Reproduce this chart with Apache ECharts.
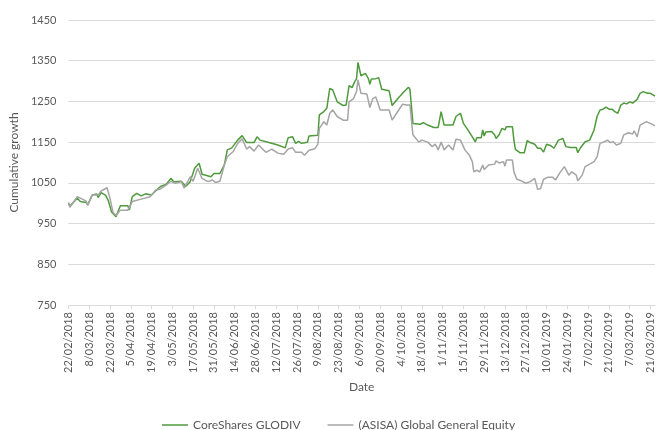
<!DOCTYPE html>
<html>
<head>
<meta charset="utf-8">
<script src="https://cdn.jsdelivr.net/npm/echarts@6/dist/echarts.min.js"></script>
<style>
  html, body { margin: 0; padding: 0; background: #fff; }
  #chart { width: 656px; height: 430px; }
</style>
</head>
<body>
<div id="chart"></div>
<script>
// day offsets are counted from 22/02/2018
const tickLabels = ['22/02/2018', '8/03/2018', '22/03/2018', '5/04/2018', '19/04/2018', '3/05/2018',
  '17/05/2018', '31/05/2018', '14/06/2018', '28/06/2018', '12/07/2018', '26/07/2018', '9/08/2018',
  '23/08/2018', '6/09/2018', '20/09/2018', '4/10/2018', '18/10/2018', '1/11/2018', '15/11/2018',
  '29/11/2018', '13/12/2018', '27/12/2018', '10/01/2019', '24/01/2019', '7/02/2019', '21/02/2019',
  '7/03/2019', '21/03/2019']
const tickDays = [0, 14, 28, 42, 56, 70, 84, 98, 112, 126, 140, 154, 168, 182, 196, 210, 224, 238,
  252, 266, 280, 294, 308, 322, 336, 350, 364, 378, 392]

const glodivDays = [0, 1, 6, 8, 12, 13, 16, 19, 20, 22, 25, 27, 29, 32, 35, 40, 41, 43, 46, 49, 52, 56,
  59, 62, 66, 69, 71, 76, 79, 82, 85, 88, 90, 96, 98, 102, 105, 107, 110, 114, 117, 120, 125, 127, 129,
  135, 141, 146, 148, 151, 153, 155, 157, 161, 162, 168, 169, 172, 174, 176, 178, 181, 185, 187, 188,
  189, 191, 193, 194, 195, 197, 200, 202, 203, 204, 207, 209, 211, 216, 218, 222, 226, 229, 230, 232,
  237, 239, 242, 246, 249, 251, 253, 259, 261, 264, 266, 269, 272, 274, 275, 278, 279, 280, 281, 285,
  287, 288, 290, 292, 294, 295, 299, 300, 301, 304, 307, 309, 311, 314, 316, 318, 320, 322, 325, 327,
  328, 330, 333, 335, 338, 342, 343, 345, 348, 351, 354, 356, 358, 360, 362, 364, 366, 368, 370, 372,
  374, 376, 378, 380, 383, 385, 387, 388, 390, 392, 395]
const glodivValues = [1000, 993, 1012, 1004, 1002, 996, 1020, 1023, 1014, 1026, 1020, 1005, 979, 967,
  994, 994, 983, 1016, 1024, 1018, 1023, 1020, 1031, 1041, 1047, 1061, 1053, 1054, 1041, 1053, 1086,
  1098, 1071, 1065, 1073, 1073, 1094, 1131, 1136, 1155, 1166, 1149, 1149, 1163, 1155, 1149, 1143, 1136,
  1161, 1163, 1147, 1152, 1147, 1150, 1165, 1167, 1217, 1225, 1233, 1282, 1278, 1249, 1240, 1241, 1238,
  1289, 1284, 1300, 1305, 1346, 1313, 1319, 1306, 1292, 1305, 1306, 1308, 1280, 1276, 1240, 1258, 1274,
  1285, 1280, 1196, 1194, 1198, 1192, 1186, 1186, 1225, 1192, 1192, 1213, 1221, 1196, 1180, 1163, 1151,
  1161, 1161, 1180, 1165, 1175, 1176, 1168, 1159, 1168, 1184, 1180, 1188, 1188, 1155, 1132, 1124, 1124,
  1154, 1149, 1145, 1135, 1135, 1126, 1145, 1141, 1135, 1131, 1155, 1159, 1139, 1137, 1137, 1124, 1137,
  1151, 1155, 1180, 1213, 1229, 1231, 1236, 1231, 1231, 1225, 1221, 1241, 1246, 1244, 1249, 1246, 1255,
  1270, 1274, 1278, 1270, 1270, 1263]

const asisaDays = [0, 1, 6, 12, 13, 16, 20, 22, 26, 28, 30, 32, 35, 40, 41, 43, 49, 55, 59, 62, 66, 69,
  72, 76, 78, 82, 84, 87, 90, 94, 97, 99, 102, 105, 107, 111, 114, 117, 120, 122, 125, 128, 129, 133,
  137, 141, 145, 148, 151, 153, 157, 159, 162, 166, 168, 169, 172, 174, 176, 178, 181, 185, 188, 189,
  192, 194, 195, 197, 201, 203, 205, 207, 210, 216, 218, 221, 225, 228, 230, 232, 236, 238, 242, 245,
  247, 249, 251, 253, 256, 259, 261, 264, 267, 270, 272, 273, 275, 277, 279, 280, 283, 287, 288, 290,
  293, 294, 295, 299, 300, 302, 305, 308, 311, 314, 316, 318, 320, 323, 326, 328, 331, 334, 337, 339,
  342, 343, 346, 348, 351, 354, 356, 358, 361, 363, 365, 367, 369, 372, 374, 377, 380, 381, 383, 385,
  389, 392, 395]
const asisaValues = [1002, 990, 1016, 1005, 995, 1020, 1020, 1030, 1038, 1012, 978, 970, 983, 983, 980,
  1004, 1010, 1016, 1033, 1035, 1045, 1054, 1049, 1053, 1037, 1065, 1054, 1086, 1061, 1053, 1057, 1051,
  1054, 1094, 1114, 1127, 1147, 1158, 1133, 1139, 1128, 1143, 1139, 1125, 1133, 1123, 1120, 1133, 1136,
  1125, 1125, 1118, 1130, 1134, 1145, 1184, 1200, 1192, 1221, 1229, 1213, 1204, 1204, 1249, 1257, 1274,
  1303, 1270, 1268, 1235, 1257, 1261, 1229, 1229, 1204, 1221, 1243, 1241, 1241, 1168, 1150, 1155, 1150,
  1139, 1145, 1131, 1150, 1131, 1143, 1131, 1157, 1155, 1131, 1118, 1102, 1077, 1081, 1077, 1094, 1083,
  1094, 1096, 1104, 1099, 1102, 1091, 1106, 1106, 1077, 1059, 1055, 1049, 1053, 1061, 1034, 1036, 1059,
  1064, 1064, 1057, 1075, 1090, 1069, 1077, 1069, 1055, 1069, 1090, 1096, 1102, 1114, 1147, 1151, 1155,
  1149, 1151, 1143, 1147, 1168, 1173, 1170, 1178, 1163, 1192, 1200, 1196, 1190]

const pairUp = (days, values) => days.map((d, i) => [d, values[i]])

const textColor = '#595959'
const gridColor = '#d9d9d9'
const font = 'Lato'

let chart = echarts.init(document.getElementById('chart'))
let option = {
  animation: false,
  textStyle: { fontFamily: font },
  grid: {
    left: 67,
    right: 0,
    top: 20,
    bottom: 125,
  },
  legend: {
    left: 157,
    top: 414,
    icon: 'rect',
    itemWidth: 26,
    itemHeight: 1.5,
    itemGap: 27,
    textStyle: { color: textColor, fontSize: 12, fontFamily: font },
  },
  xAxis: {
    type: 'value',
    min: 0,
    max: 395,
    name: 'Date',
    nameLocation: 'middle',
    nameGap: 75,
    nameTextStyle: { color: textColor, fontSize: 12, fontFamily: font },
    axisLine: { show: true, lineStyle: { color: gridColor, width: 1 } },
    axisTick: {
      show: true,
      length: 4,
      customValues: tickDays,
      lineStyle: { color: gridColor },
    },
    axisLabel: {
      customValues: tickDays,
      rotate: 90,
      margin: 7,
      color: textColor,
      fontSize: 11,
      fontFamily: font,
      formatter: v => tickLabels[tickDays.indexOf(Math.round(v))] || '',
    },
    splitLine: { show: false },
  },
  yAxis: {
    type: 'value',
    min: 750,
    max: 1450,
    interval: 100,
    name: 'Cumulative growth',
    nameLocation: 'middle',
    nameGap: 47,
    nameTextStyle: { color: textColor, fontSize: 12, fontFamily: font },
    axisLine: { show: false },
    axisTick: { show: false },
    axisLabel: {
      color: textColor,
      fontSize: 11,
      margin: 12,
      fontFamily: font,
      formatter: v => String(v),
    },
    splitLine: { lineStyle: { color: gridColor, width: 1 } },
  },
  series: [
    {
      name: 'CoreShares GLODIV',
      type: 'line',
      data: pairUp(glodivDays, glodivValues),
      showSymbol: false,
      color: '#4e9a3c',
      lineStyle: { width: 1.5, color: '#4e9a3c' },
    },
    {
      name: '(ASISA) Global General Equity',
      type: 'line',
      data: pairUp(asisaDays, asisaValues),
      showSymbol: false,
      color: '#a5a5a5',
      lineStyle: { width: 1.5, color: '#a5a5a5' },
    },
  ],
}
chart.setOption(option)
</script>
</body>
</html>
